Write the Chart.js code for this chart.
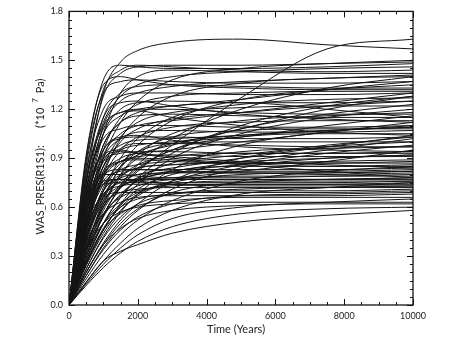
<!DOCTYPE html>
<html>
<head>
<meta charset="utf-8">
<script src="https://cdn.jsdelivr.net/npm/chart.js@4/dist/chart.umd.min.js"></script>
<style>
  html, body { margin: 0; padding: 0; background: #fff; }
  #wrap { width: 459px; height: 337px; }
</style>
</head>
<body>
<div id="wrap"><canvas id="presChart" width="459" height="337"></canvas></div>
<script>
// Sample times (years) shared by every realization
const years = [0, 500, 1000, 1500, 2000, 3000, 5000, 7500, 10000];

// WAS_PRES(R1S1) per realization, in 1e7 Pa, read at the times above
const runs = [
  [0, 0.75, 1.30, 1.49, 1.56, 1.61, 1.63, 1.595, 1.57],
  [0, 0.30, 0.55, 0.72, 0.82, 0.98, 1.27, 1.57, 1.63],
  [0, 0.90, 1.38, 1.47, 1.46, 1.45, 1.45, 1.46, 1.48],
  [0, 0.85, 1.32, 1.44, 1.47, 1.46, 1.44, 1.43, 1.44],
  [0, 0.80, 1.28, 1.42, 1.46, 1.47, 1.47, 1.48, 1.49],
  [0, 0.50, 0.90, 1.12, 1.25, 1.38, 1.45, 1.48, 1.50],
  [0, 0.60, 1.05, 1.30, 1.40, 1.44, 1.43, 1.42, 1.42],
  [0, 0.88, 1.30, 1.37, 1.38, 1.37, 1.36, 1.36, 1.37],
  [0, 0.45, 0.80, 1.02, 1.15, 1.28, 1.36, 1.39, 1.40],
  [0, 0.30, 0.55, 0.73, 0.86, 1.02, 1.20, 1.33, 1.40],
  [0, 0.70, 1.15, 1.30, 1.34, 1.35, 1.34, 1.33, 1.33],
  [0, 0.35, 0.64, 0.85, 0.98, 1.13, 1.26, 1.32, 1.35],
  [0, 0.82, 1.20, 1.28, 1.30, 1.30, 1.29, 1.29, 1.30],
  [0, 0.55, 0.95, 1.15, 1.23, 1.28, 1.30, 1.31, 1.31],
  [0, 0.28, 0.50, 0.66, 0.78, 0.93, 1.10, 1.22, 1.28],
  [0, 0.75, 1.15, 1.24, 1.25, 1.22, 1.17, 1.14, 1.12],
  [0, 0.40, 0.70, 0.90, 1.02, 1.15, 1.23, 1.26, 1.27],
  [0, 0.65, 1.05, 1.20, 1.24, 1.25, 1.24, 1.24, 1.25],
  [0, 0.50, 0.85, 1.03, 1.12, 1.18, 1.21, 1.22, 1.22],
  [0, 0.25, 0.46, 0.62, 0.74, 0.90, 1.05, 1.15, 1.20],
  [0, 0.78, 1.10, 1.18, 1.20, 1.20, 1.18, 1.17, 1.17],
  [0, 0.33, 0.60, 0.80, 0.92, 1.05, 1.13, 1.16, 1.18],
  [0, 0.60, 0.98, 1.12, 1.16, 1.17, 1.16, 1.15, 1.15],
  [0, 0.70, 1.08, 1.18, 1.19, 1.15, 1.10, 1.06, 1.04],
  [0, 0.45, 0.78, 0.95, 1.03, 1.09, 1.12, 1.13, 1.13],
  [0, 0.22, 0.42, 0.57, 0.68, 0.83, 0.98, 1.06, 1.10],
  [0, 0.72, 1.02, 1.08, 1.10, 1.10, 1.09, 1.09, 1.10],
  [0, 0.38, 0.66, 0.84, 0.94, 1.03, 1.07, 1.08, 1.08],
  [0, 0.55, 0.90, 1.02, 1.06, 1.07, 1.06, 1.06, 1.07],
  [0, 0.30, 0.55, 0.72, 0.83, 0.95, 1.03, 1.05, 1.05],
  [0, 0.65, 0.95, 1.02, 1.03, 1.03, 1.02, 1.02, 1.03],
  [0, 0.20, 0.38, 0.52, 0.62, 0.76, 0.90, 0.97, 1.00],
  [0, 0.42, 0.72, 0.87, 0.94, 0.99, 1.00, 1.00, 1.00],
  [0, 0.52, 0.85, 0.96, 0.99, 0.99, 0.98, 0.97, 0.97],
  [0, 0.62, 0.95, 1.03, 1.04, 1.01, 0.97, 0.95, 0.94],
  [0, 0.27, 0.50, 0.66, 0.77, 0.87, 0.94, 0.96, 0.97],
  [0, 0.60, 0.88, 0.93, 0.94, 0.94, 0.93, 0.93, 0.94],
  [0, 0.35, 0.62, 0.78, 0.86, 0.91, 0.93, 0.93, 0.93],
  [0, 0.18, 0.35, 0.48, 0.58, 0.71, 0.84, 0.90, 0.92],
  [0, 0.48, 0.78, 0.88, 0.91, 0.92, 0.91, 0.91, 0.91],
  [0, 0.25, 0.46, 0.61, 0.71, 0.80, 0.86, 0.88, 0.89],
  [0, 0.55, 0.82, 0.88, 0.89, 0.88, 0.87, 0.87, 0.88],
  [0, 0.40, 0.67, 0.79, 0.84, 0.86, 0.87, 0.87, 0.87],
  [0, 0.30, 0.54, 0.68, 0.76, 0.82, 0.85, 0.85, 0.86],
  [0, 0.68, 0.92, 0.95, 0.93, 0.90, 0.87, 0.85, 0.85],
  [0, 0.16, 0.31, 0.43, 0.52, 0.64, 0.76, 0.82, 0.85],
  [0, 0.50, 0.76, 0.82, 0.83, 0.83, 0.83, 0.83, 0.84],
  [0, 0.36, 0.60, 0.72, 0.77, 0.81, 0.82, 0.82, 0.83],
  [0, 0.58, 0.80, 0.83, 0.83, 0.82, 0.81, 0.81, 0.82],
  [0, 0.24, 0.44, 0.58, 0.67, 0.75, 0.80, 0.81, 0.82],
  [0, 0.44, 0.70, 0.78, 0.80, 0.81, 0.81, 0.80, 0.81],
  [0, 0.62, 0.80, 0.80, 0.79, 0.78, 0.78, 0.79, 0.80],
  [0, 0.32, 0.55, 0.67, 0.73, 0.77, 0.79, 0.79, 0.79],
  [0, 0.20, 0.37, 0.50, 0.59, 0.69, 0.75, 0.77, 0.78],
  [0, 0.52, 0.74, 0.77, 0.77, 0.77, 0.77, 0.77, 0.78],
  [0, 0.40, 0.64, 0.73, 0.76, 0.77, 0.77, 0.77, 0.77],
  [0, 0.28, 0.50, 0.62, 0.69, 0.74, 0.76, 0.76, 0.76],
  [0, 0.56, 0.74, 0.75, 0.75, 0.75, 0.75, 0.75, 0.76],
  [0, 0.46, 0.68, 0.73, 0.74, 0.74, 0.74, 0.74, 0.75],
  [0, 0.14, 0.27, 0.38, 0.47, 0.58, 0.68, 0.72, 0.75],
  [0, 0.34, 0.56, 0.66, 0.70, 0.73, 0.74, 0.74, 0.74],
  [0, 0.60, 0.76, 0.77, 0.76, 0.74, 0.73, 0.73, 0.73],
  [0, 0.22, 0.41, 0.54, 0.62, 0.68, 0.71, 0.72, 0.73],
  [0, 0.42, 0.62, 0.69, 0.71, 0.72, 0.72, 0.72, 0.72],
  [0, 0.30, 0.50, 0.60, 0.65, 0.68, 0.70, 0.70, 0.71],
  [0, 0.50, 0.66, 0.69, 0.69, 0.69, 0.69, 0.69, 0.70],
  [0, 0.18, 0.34, 0.46, 0.54, 0.62, 0.67, 0.68, 0.69],
  [0, 0.38, 0.56, 0.63, 0.66, 0.67, 0.67, 0.67, 0.68],
  [0, 0.26, 0.46, 0.56, 0.61, 0.64, 0.66, 0.66, 0.66],
  [0, 0.13, 0.25, 0.35, 0.43, 0.53, 0.60, 0.63, 0.65],
  [0, 0.33, 0.50, 0.57, 0.60, 0.62, 0.63, 0.63, 0.63],
  [0, 0.20, 0.37, 0.47, 0.53, 0.58, 0.61, 0.62, 0.62],
  [0, 0.12, 0.23, 0.32, 0.39, 0.48, 0.56, 0.59, 0.60],
  [0, 0.14, 0.27, 0.33, 0.37, 0.44, 0.51, 0.55, 0.58],
  [0, 0.92, 1.35, 1.40, 1.38, 1.35, 1.33, 1.32, 1.32],
  [0, 0.66, 1.10, 1.25, 1.30, 1.34, 1.37, 1.39, 1.41],
  [0, 0.47, 0.82, 1.00, 1.08, 1.14, 1.18, 1.22, 1.25],
  [0, 0.55, 0.88, 0.98, 1.01, 1.02, 1.04, 1.07, 1.09],
  [0, 0.35, 0.62, 0.80, 0.90, 0.99, 1.04, 1.07, 1.09],
  [0, 0.45, 0.70, 0.80, 0.84, 0.86, 0.88, 0.90, 0.92],
  [0, 0.40, 0.70, 0.85, 0.92, 0.98, 1.08, 1.20, 1.28],
  [0, 0.58, 0.92, 1.05, 1.10, 1.13, 1.18, 1.24, 1.30],
  [0, 0.50, 0.80, 0.90, 0.93, 0.95, 1.00, 1.06, 1.12],
  [0, 0.62, 0.98, 1.12, 1.18, 1.22, 1.24, 1.20, 1.15],
  [0, 0.36, 0.60, 0.72, 0.78, 0.82, 0.88, 0.95, 1.02],
  [0, 0.52, 0.80, 0.88, 0.90, 0.89, 0.86, 0.82, 0.78],
  [0, 0.45, 0.68, 0.75, 0.77, 0.78, 0.82, 0.88, 0.95],
  [0, 0.75, 1.12, 1.28, 1.35, 1.40, 1.43, 1.45, 1.46],
  [0, 0.33, 0.58, 0.74, 0.84, 0.95, 1.08, 1.17, 1.23],
  [0, 0.42, 0.66, 0.76, 0.80, 0.84, 0.90, 0.97, 1.04],
  [0, 0.55, 0.85, 0.95, 0.98, 1.00, 1.03, 1.10, 1.16],
  [0, 0.26, 0.47, 0.60, 0.68, 0.76, 0.86, 0.93, 0.98],
  [0, 0.64, 0.90, 0.94, 0.93, 0.91, 0.88, 0.86, 0.84],
  [0, 0.48, 0.74, 0.83, 0.86, 0.88, 0.92, 0.98, 1.03],
  [0, 0.70, 1.05, 1.16, 1.20, 1.22, 1.26, 1.32, 1.37]
];

// Axis settings
const xTicks = { min: 0, max: 10000, step: 2000, minor: 500 };
const yTicks = { min: 0, max: 1.8, step: 0.3, minor: 0.05 };
const xTitle = 'Time (Years)';
const yTitle = 'WAS_PRES(R1S1):';
const yUnit = ['(*10', '7', 'Pa)'];

const FONT = 'Lato, "Open Sans", sans-serif';

// Box, inward ticks on all four sides and axis titles
const frameAndTitles = {
  id: 'frameAndTitles',
  afterDraw(chart) {
    const { ctx, chartArea: a, scales } = chart;
    const xs = scales.x, ys = scales.y;
    ctx.save();
    ctx.strokeStyle = '#111';
    ctx.lineWidth = 1.3;
    ctx.strokeRect(a.left, a.top, a.right - a.left, a.bottom - a.top);

    ctx.lineWidth = 1;
    ctx.beginPath();
    for (let v = xTicks.min; v <= xTicks.max + 1e-6; v += xTicks.minor) {
      const px = Math.round(xs.getPixelForValue(v)) + 0.5;
      const len = (v % xTicks.step === 0) ? 6 : 3;
      ctx.moveTo(px, a.bottom); ctx.lineTo(px, a.bottom - len);
      ctx.moveTo(px, a.top); ctx.lineTo(px, a.top + len);
    }
    const nMinor = Math.round((yTicks.max - yTicks.min) / yTicks.minor);
    const perMajor = Math.round(yTicks.step / yTicks.minor);
    for (let i = 0; i <= nMinor; i++) {
      const v = yTicks.min + i * yTicks.minor;
      const py = Math.round(ys.getPixelForValue(v)) + 0.5;
      const len = (i % perMajor === 0) ? 6 : 3;
      ctx.moveTo(a.left, py); ctx.lineTo(a.left + len, py);
      ctx.moveTo(a.right, py); ctx.lineTo(a.right - len, py);
    }
    ctx.stroke();

    // x title
    ctx.fillStyle = '#222';
    ctx.font = '11px ' + FONT;
    ctx.textAlign = 'center';
    ctx.textBaseline = 'middle';
    ctx.fillText(xTitle, 236, 329);

    // y title, rotated
    ctx.translate(40, 0);
    ctx.rotate(-Math.PI / 2);
    ctx.font = '11px ' + FONT;
    ctx.fillText(yTitle, -190, 0);
    ctx.textAlign = 'left';
    let y0 = -128;
    ctx.fillText(yUnit[0], y0, 0);
    y0 += ctx.measureText(yUnit[0] + ' ').width + 2;
    ctx.font = '8px ' + FONT;
    ctx.fillText(yUnit[1], y0, -5);
    y0 += ctx.measureText(yUnit[1]).width + 5;
    ctx.font = '11px ' + FONT;
    ctx.fillText(yUnit[2], y0, 0);
    ctx.restore();
  }
};

const datasets = runs.map((vals, i) => ({
  label: 'run ' + (i + 1),
  data: vals.map((v, j) => ({ x: years[j], y: v })),
  borderColor: '#151515',
  borderWidth: 1,
  pointRadius: 0,
  fill: false,
  cubicInterpolationMode: 'monotone'
}));

new Chart(document.getElementById('presChart').getContext('2d'), {
  type: 'line',
  data: { datasets },
  options: {
    responsive: false,
    animation: false,
    events: [],
    layout: { padding: { left: 0, right: 46, top: 7, bottom: 0 } },
    plugins: {
      legend: { display: false },
      tooltip: { enabled: false }
    },
    scales: {
      x: {
        type: 'linear',
        min: xTicks.min,
        max: xTicks.max,
        grid: { display: false, drawTicks: false },
        border: { display: false },
        ticks: {
          stepSize: xTicks.step,
          padding: 6,
          color: '#222',
          font: { family: FONT, size: 9 },
          maxRotation: 0,
          callback: v => String(v)
        },
        afterFit: s => { s.height = 32; }
      },
      y: {
        min: yTicks.min,
        max: yTicks.max,
        grid: { display: false, drawTicks: false },
        border: { display: false },
        ticks: {
          stepSize: yTicks.step,
          padding: 6,
          color: '#222',
          font: { family: FONT, size: 9 },
          callback: v => Number(v).toFixed(1)
        },
        afterFit: s => { s.width = 69; }
      }
    }
  },
  plugins: [frameAndTitles]
});
</script>
</body>
</html>
